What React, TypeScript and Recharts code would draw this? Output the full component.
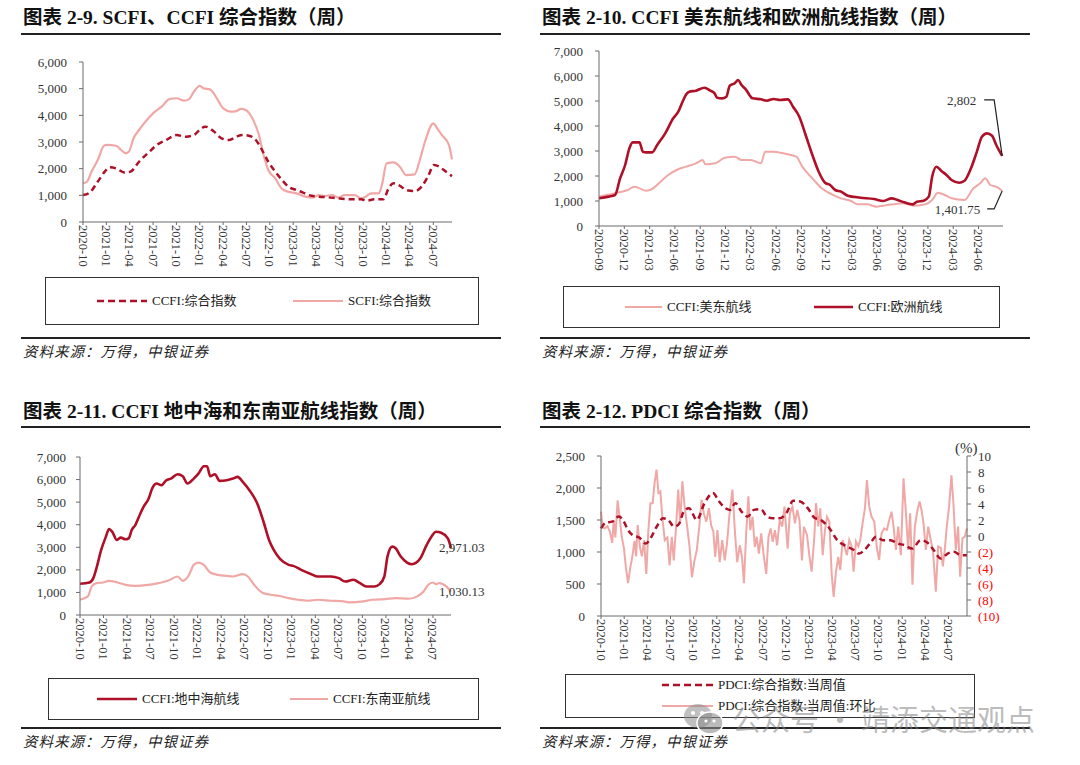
import React from "react";
import { LineChart, Line, XAxis, YAxis } from "recharts";

const SERIF = "'Liberation Serif', 'Times New Roman', 'Noto Sans CJK SC', serif";
const DARK = "#AE1028";
const PINK = "#F0A8A6";
const AXIS = "#6b6b6b";

// tick labels
const ticksOct = ["2020-10", "2021-01", "2021-04", "2021-07", "2021-10", "2022-01", "2022-04", "2022-07", "2022-10", "2023-01", "2023-04", "2023-07", "2023-10", "2024-01", "2024-04", "2024-07"];
const ticksSep = ["2020-09", "2020-12", "2021-03", "2021-06", "2021-09", "2021-12", "2022-03", "2022-06", "2022-09", "2022-12", "2023-03", "2023-06", "2023-09", "2023-12", "2024-03", "2024-06"];
const yTicks6k = [0, 1000, 2000, 3000, 4000, 5000, 6000];
const yTicks7k = [0, 1000, 2000, 3000, 4000, 5000, 6000, 7000];
const yTicksPdci = [0, 500, 1000, 1500, 2000, 2500];
const yTicksPct = [-10, -8, -6, -4, -2, 0, 2, 4, 6, 8, 10];

// x = months since 2020-01
// 图表 2-9
const scfiT = [9, 9.5, 10.1, 11, 11.6, 12, 13.25, 13.9, 14.5, 14.9, 15.5, 16.2, 17.2, 18, 19.1, 20.1, 21, 22, 22.6, 23.25, 24, 24.5, 25.3, 26.2, 27, 28, 28.7, 29.3, 29.9, 30.75, 31.6, 32.2, 32.8, 33.7, 34.5, 35.3, 36.4, 37.6, 38.5, 39.3, 40.1, 41, 41.8, 42.6, 43.9, 44.7, 45.3, 46, 47, 47.4, 48, 48.9, 49.7, 50.5, 51.6, 52.2, 53, 54, 54.5, 55.1, 56, 56.4];
const scfiV = [1450, 1510, 1890, 2390, 2830, 2890, 2860, 2700, 2575, 2640, 3140, 3450, 3825, 4075, 4325, 4610, 4640, 4550, 4600, 4890, 5110, 5010, 4975, 4640, 4260, 4140, 4160, 4240, 4200, 3890, 3260, 2510, 1950, 1640, 1260, 1140, 1075, 950, 912, 1010, 975, 1010, 912, 1010, 1010, 887, 950, 1075, 1075, 1390, 2200, 2237, 2075, 1760, 1787, 2260, 3075, 3700, 3510, 3260, 2890, 2350];
const ccfiT = [9, 9.9, 10.75, 11.8, 12.4, 13.25, 14.3, 15.1, 16.2, 17.4, 18.5, 19.7, 21, 22.2, 23.25, 24.1, 24.7, 25.75, 26.8, 27.8, 28.7, 29.5, 30.3, 31.2, 32, 32.8, 33.7, 34.5, 35.5, 36.4, 37.2, 38, 39.3, 40.5, 41.8, 43.5, 44.7, 45.5, 46.4, 47.6, 48.25, 48.9, 49.7, 50.5, 51.6, 52.5, 53.3, 54.1, 54.75, 55.6, 56.4];
const ccfiV = [1010, 1110, 1450, 1890, 2050, 2010, 1860, 1890, 2260, 2600, 2890, 3075, 3260, 3200, 3260, 3490, 3575, 3410, 3140, 3075, 3200, 3260, 3237, 3075, 2700, 2260, 1890, 1600, 1300, 1200, 1110, 1010, 950, 925, 887, 850, 850, 800, 850, 850, 1260, 1450, 1360, 1200, 1160, 1325, 1700, 2135, 2075, 1890, 1720];

// 图表 2-10
const euT = [8, 9.15, 9.9, 10.5, 11.1, 11.6, 12, 12.8, 13.2, 13.6, 14.3, 14.9, 15.85, 16.8, 17.4, 18, 18.35, 18.7, 19.5, 20.5, 21.2, 21.7, 22, 22.6, 23.1, 23.5, 24.1, 24.5, 24.9, 25.4, 26.2, 27.2, 27.9, 28.7, 29.5, 30.4, 31, 31.75, 32.5, 33.3, 34.05, 34.8, 35.4, 36, 36.7, 37.5, 39, 40.6, 41.7, 42.7, 43.4, 44.2, 45.2, 45.7, 46.5, 47.1, 47.5, 48, 48.6, 49.2, 49.8, 50.7, 51.3, 52.1, 52.8, 53.4, 54, 54.6, 55.1, 55.8];
const euV = [1108, 1175, 1240, 1907, 2440, 3107, 3347, 3347, 2973, 2947, 2947, 3240, 3707, 4307, 4573, 5040, 5267, 5373, 5413, 5533, 5413, 5307, 5133, 5107, 5173, 5613, 5707, 5840, 5640, 5467, 5107, 5067, 5013, 5080, 5040, 5067, 4773, 4373, 3640, 2840, 2173, 1733, 1640, 1440, 1373, 1213, 1133, 1080, 1000, 1107, 1040, 947, 867, 973, 1013, 1173, 1973, 2373, 2200, 2040, 1840, 1733, 1800, 2307, 2973, 3573, 3707, 3613, 3240, 2802];
const usT = [8, 9.9, 11.4, 12.2, 12.8, 13.6, 14.3, 15.3, 16.2, 17.2, 18.3, 19.5, 20.3, 20.6, 21.8, 22.9, 24.1, 24.9, 26, 27.2, 27.7, 28.7, 29.8, 31.4, 32.1, 33.3, 34.4, 35.6, 36.7, 37.9, 38.65, 39.8, 40.9, 41.7, 42.9, 44, 45.5, 46.7, 47.5, 48.2, 49, 49.8, 51.3, 52.4, 53.2, 53.8, 54.4, 55.1, 55.8];
const usV = [1173, 1307, 1440, 1573, 1507, 1413, 1480, 1773, 2040, 2240, 2373, 2507, 2640, 2467, 2507, 2733, 2773, 2640, 2640, 2507, 2973, 2973, 2907, 2773, 2373, 1907, 1507, 1267, 1107, 1000, 867, 867, 773, 813, 867, 907, 813, 867, 1040, 1333, 1240, 1107, 1040, 1507, 1707, 1907, 1640, 1573, 1401.75];

// 图表 2-11
const medT = [9, 10.2, 10.7, 11.1, 11.7, 12.3, 12.7, 13.1, 13.7, 14.2, 14.8, 15.2, 15.6, 16.05, 16.7, 17.1, 17.7, 18.3, 18.75, 19.4, 20, 20.6, 21.45, 22.1, 22.7, 23.5, 24.1, 24.8, 25.2, 25.6, 26.2, 26.8, 27.7, 28.5, 29.1, 29.75, 30.6, 31.6, 32.4, 33.1, 33.7, 34.5, 35.6, 36.2, 37.2, 38.5, 39.3, 41, 42, 42.8, 43.85, 44.7, 45.5, 46.55, 47.2, 47.8, 48.2, 48.8, 49.25, 49.9, 50.7, 51.3, 52.4, 53.2, 53.8, 54.4, 55.05, 55.9, 56.3];
const medV = [1382, 1441, 1632, 2074, 2882, 3470, 3809, 3691, 3324, 3426, 3353, 3397, 3765, 3985, 4500, 4794, 5118, 5676, 5824, 5750, 5971, 6044, 6235, 6147, 5824, 6044, 6265, 6588, 6588, 6147, 6235, 5941, 5971, 6044, 6118, 5897, 5529, 4941, 4132, 3324, 2882, 2485, 2221, 2176, 2000, 1809, 1706, 1706, 1632, 1485, 1559, 1412, 1265, 1265, 1368, 1706, 2588, 3029, 2956, 2588, 2324, 2250, 2515, 3103, 3470, 3691, 3647, 3397, 2971.03];
const seaT = [9, 10, 10.5, 11.1, 11.9, 12.7, 13.8, 14.8, 16.05, 17.7, 19, 20.2, 21.45, 22.1, 22.9, 23.5, 24.1, 24.8, 25.6, 26.6, 27.7, 28.5, 29.75, 30.4, 31.2, 32.2, 33.3, 34.3, 35.6, 36.8, 38.05, 39.3, 41, 42.6, 43.4, 45.1, 46.3, 47.9, 49.25, 50.9, 52, 52.8, 53.4, 54, 54.4, 54.8, 55.7, 56.3];
const seaV = [676, 824, 1265, 1412, 1441, 1515, 1441, 1338, 1294, 1338, 1412, 1515, 1706, 1515, 1779, 2221, 2324, 2221, 1882, 1779, 1735, 1706, 1809, 1706, 1338, 1000, 897, 853, 750, 676, 632, 676, 632, 603, 559, 603, 676, 706, 750, 720, 824, 1044, 1338, 1441, 1368, 1412, 1265, 1030.13];

// 图表 2-12
const pdciT = [9, 9.6, 10.45, 11.3, 11.9, 12.5, 13.1, 13.95, 14.8, 15.4, 16.2, 17.05, 17.7, 18.5, 19.1, 19.7, 20.4, 21.4, 22.4, 23.5, 24.3, 25.1, 25.7, 26.4, 27.2, 28, 28.8, 29.7, 30.5, 31.3, 32.1, 33, 33.9, 34.8, 35.8, 36.6, 37.5, 38.6, 39.6, 40.5, 41.8, 42.4, 43.1, 44, 44.6, 45.5, 46.5, 47.4, 48.3, 49.3, 50.4, 51.3, 52.1, 53, 53.9, 54.7, 55.6, 56.4];
const pdciV = [1368, 1458, 1474, 1553, 1489, 1342, 1263, 1226, 1132, 1211, 1395, 1526, 1500, 1395, 1437, 1632, 1684, 1500, 1763, 1921, 1789, 1684, 1658, 1763, 1632, 1553, 1658, 1668, 1553, 1526, 1526, 1605, 1800, 1790, 1681, 1540, 1498, 1368, 1185, 1107, 1028, 976, 1028, 1159, 1237, 1185, 1185, 1133, 1107, 1054, 1185, 1143, 1028, 898, 976, 1002, 950, 950];
const momT = [9, 9.2, 9.5, 9.83, 10.16, 10.45, 10.65, 10.86, 11.15, 11.4, 11.69, 11.98, 12.22, 12.51, 12.8, 13.05, 13.34, 13.55, 13.75, 14.04, 14.29, 14.58, 14.87, 15.12, 15.4, 15.69, 15.94, 16.19, 16.44, 16.69, 16.93, 17.26, 17.6, 17.88, 18.17, 18.42, 18.71, 19, 19.25, 19.54, 19.83, 20.16, 20.45, 20.78, 21.07, 21.4, 21.73, 22.02, 22.31, 22.64, 22.97, 23.26, 23.55, 23.79, 24.08, 24.37, 24.7, 25.03, 25.32, 25.61, 26.02, 26.36, 26.64, 26.98, 27.26, 27.51, 27.8, 28.09, 28.34, 28.63, 28.92, 29.17, 29.45, 29.74, 30.07, 30.4, 30.69, 30.98, 31.23, 31.52, 31.81, 32.14, 32.47, 32.76, 33.17, 33.46, 33.79, 34.12, 34.41, 34.7, 35.03, 35.28, 35.68, 35.98, 36.28, 36.63, 36.84, 37.14, 37.4, 37.71, 38.01, 38.27, 38.57, 38.87, 39.13, 39.43, 39.73, 39.99, 40.29, 40.59, 40.85, 41.15, 41.46, 41.71, 42.02, 42.32, 42.58, 42.88, 43.18, 43.44, 43.74, 44.04, 44.39, 44.73, 45.03, 45.33, 45.68, 46.02, 46.33, 46.63, 46.89, 47.19, 47.49, 47.83, 48.18, 48.48, 48.78, 49.04, 49.34, 49.64, 49.99, 50.25, 50.51, 50.77, 51.07, 51.37, 51.71, 52.02, 52.36, 52.66, 53.01, 53.27, 53.52, 53.78, 54.08, 54.39, 54.64, 54.95, 55.25, 55.51, 55.81, 56.11, 56.4];
const momV = [3.05, 1.16, 0.95, 1.24, 0.53, -0.86, 2.0, -0.19, 4.44, 2.42, -0.1, -1.58, -3.9, -5.9, -3.9, -2.63, -0.61, -2.55, 1.37, -1.37, -2.55, -0.53, -4.74, 0.53, 4.1, 4.1, 6.63, 8.3, 5.37, 5.58, 2.42, -0.53, -0.19, -3.68, -0.1, -3.05, 0.95, 5.79, 1.66, 6.84, 3.68, 1.16, -1.16, -5.16, -3.26, -1.79, 1.16, 4.53, 2.84, 1.79, 3.47, 1.37, 0.53, -2.63, 0.74, -3.26, -0.53, -3.05, -0.95, 2.42, 5.79, 0.32, -3.26, -1.16, -2.63, -5.9, 0.32, 4.95, 0.74, 2.42, -1.37, -0.1, -2.21, 0.32, -2.42, -4.74, -0.1, 0.95, -0.74, 0.74, -1.16, 2.0, 1.16, 3.68, -1.58, 2.84, 3.68, 1.58, 3.26, 2.0, -3.05, 1.16, 0.1, -2.4, -4.46, -0.1, 4.1, 1.2, 3.46, -2.4, 0.75, 2.4, 1.8, -4.67, -7.6, -4.46, -2.6, -4.25, -0.5, -1.5, -2.4, -0.5, -1.3, -4.46, -0.7, -1.3, -0.5, 1.6, 3.46, 7.0, 3.67, 2.4, 1.8, -1.5, -3.0, 0.33, 0.96, 0.75, 2.0, 3.04, 1.17, -1.75, 1.17, -2.4, 7.2, 3.04, -1.75, 2.83, -6.1, 1.17, 3.25, 4.3, 3.25, 1.58, -1.75, 1.17, -0.5, -2.17, -6.96, -1.33, -1.5, -3.8, -1.75, 1.17, 3.67, 7.6, 4.1, -1.75, 1.17, -5.1, -0.3, -0.08, 0.96];

const pts = (t: number[], v: number[]) => t.map((x, i) => ({ t: x, v: v[i] }));
const monthOf = (s: string) => {
  const [y, m] = s.split("-").map(Number);
  return (y - 2020) * 12 + (m - 1);
};
const labelOf = (i: number) => {
  const y = 2020 + Math.floor(i / 12);
  const m = (i % 12) + 1;
  return `${y}-${m < 10 ? "0" + m : m}`;
};

const XTick = (props: any) => {
  const { x, y, payload } = props;
  return (
    <text x={x} y={y} transform={`rotate(90 ${x} ${y})`} dy="0.36em" textAnchor="start" fontSize={12.5} fontFamily={SERIF} fill="#333">
      {labelOf(payload.value)}
    </text>
  );
};

const PctTick = (props: any) => {
  const { x, y, payload } = props;
  const v = payload.value;
  return (
    <text x={x} y={y} dy="0.35em" textAnchor="start" fontSize={13} fontFamily={SERIF} fill={v < 0 ? "#FF0000" : "#333"}>
      {v < 0 ? `(${-v})` : v}
    </text>
  );
};

const fmt = (v: number) => v.toLocaleString("en-US");
const yTickStyle = { fontSize: 13, fontFamily: SERIF, fill: "#333" };

const xAxisProps = (ticks: string[], domain: [number, number]) => ({
  type: "number" as const,
  dataKey: "t",
  domain,
  ticks: ticks.map(monthOf),
  interval: 0 as const,
  height: 50,
  tick: <XTick />,
  tickSize: 3,
  tickMargin: 0,
  stroke: AXIS,
});

// annotation with leader line, for the last point of panel 2.10
const leaderDot = (n: number, text: string, dy: number, textEnd: number, hx: number) => (p: any) => {
  if (p.index !== n - 1) return <g key={`d${p.index}`} />;
  const { cx, cy } = p;
  const ly = cy + dy;
  return (
    <g key={`d${p.index}`}>
      <text x={cx + textEnd} y={ly} dy="0.35em" textAnchor="end" fontSize={13} fontFamily={SERIF} fill="#333">{text}</text>
      <polyline points={`${cx + hx},${ly} ${cx - 8},${ly} ${cx},${cy}`} fill="none" stroke="#222" strokeWidth={1.2} />
    </g>
  );
};

const endLabelDot = (n: number, text: string) => (p: any) => {
  if (p.index !== n - 1) return <g key={`d${p.index}`} />;
  return (
    <text key={`d${p.index}`} x={p.cx - 12} y={p.cy} dy="0.35em" textAnchor="start" fontSize={13} fontFamily={SERIF} fill="#333">{text}</text>
  );
};

const Title = ({ left, top, text }: { left: number; top: number; text: string }) => (
  <div style={{ position: "absolute", left, top, fontSize: 19.5, lineHeight: "22px", fontWeight: 700, fontFamily: SERIF, color: "#111", whiteSpace: "nowrap" }}>{text}</div>
);
const Rule = ({ left, top, width }: { left: number; top: number; width: number }) => (
  <div style={{ position: "absolute", left, top, width, height: 1.5, background: "#222" }} />
);
const Source = ({ left, top }: { left: number; top: number }) => (
  <div style={{ position: "absolute", left, top, fontSize: 14.5, lineHeight: "16px", fontStyle: "italic", letterSpacing: 1, fontFamily: SERIF, color: "#222", whiteSpace: "nowrap" }}>资料来源：万得，中银证券</div>
);
const Box = ({ left, top, width, height }: { left: number; top: number; width: number; height: number }) => (
  <div style={{ position: "absolute", left, top, width, height, border: "1.5px solid #333", boxSizing: "border-box" }} />
);
const Key = ({ x, y, len, color, dashed, text, w }: { x: number; y: number; len: number; color: string; dashed?: boolean; text: string; w: number }) => (
  <>
    <svg style={{ position: "absolute", left: x, top: y - 4 }} width={len} height={8}>
      <line x1={0} y1={4} x2={len} y2={4} stroke={color} strokeWidth={w} strokeDasharray={dashed ? "7 4" : undefined} />
    </svg>
    <div style={{ position: "absolute", left: x + len + 5, top: y - 8, fontSize: 13, lineHeight: "16px", fontFamily: SERIF, color: "#222", whiteSpace: "nowrap" }}>{text}</div>
  </>
);

export default function App() {
  return (
    <div style={{ position: "absolute", left: 0, top: 0, width: 1080, height: 765, background: "#fff", overflow: "hidden" }}>
      {/* 图表 2-9 */}
      <Title left={23} top={7} text="图表 2-9. SCFI、CCFI 综合指数（周）" />
      <Rule left={21} top={33} width={480} />
      <div style={{ position: "absolute", left: 0, top: 0 }}>
        <LineChart width={540} height={272} margin={{ top: 62, right: 88, bottom: 0, left: 0 }}>
          <XAxis {...xAxisProps(ticksOct, [9, 56.4])} />
          <YAxis width={83} domain={[0, 6000]} ticks={yTicks6k} interval={0} tickFormatter={fmt} tick={yTickStyle} tickSize={4} tickMargin={12} stroke={AXIS} />
          <Line data={pts(scfiT, scfiV)} dataKey="v" type="monotone" stroke={PINK} strokeWidth={2.2} dot={false} isAnimationActive={false} />
          <Line data={pts(ccfiT, ccfiV)} dataKey="v" type="monotone" stroke={DARK} strokeWidth={2.5} strokeDasharray="6 4" dot={false} isAnimationActive={false} />
        </LineChart>
      </div>
      <Box left={45} top={277} width={434} height={48} />
      <Key x={97} y={301} len={50} color={DARK} dashed w={2.5} text="CCFI:综合指数" />
      <Key x={293} y={301} len={50} color={PINK} w={2.2} text="SCFI:综合指数" />
      <Rule left={21} top={337} width={480} />
      <Source left={23} top={344} />

      {/* 图表 2-10 */}
      <Title left={542} top={7} text="图表 2-10. CCFI 美东航线和欧洲航线指数（周）" />
      <Rule left={540} top={33} width={490} />
      <div style={{ position: "absolute", left: 540, top: 0 }}>
        <LineChart width={540} height={276} margin={{ top: 51, right: 77, bottom: 0, left: 0 }}>
          <XAxis {...xAxisProps(ticksSep, [8, 55.9])} />
          <YAxis width={59} domain={[0, 7000]} ticks={yTicks7k} interval={0} tickFormatter={fmt} tick={yTickStyle} tickSize={4} tickMargin={12} stroke={AXIS} />
          <Line data={pts(usT, usV)} dataKey="v" type="monotone" stroke={PINK} strokeWidth={2} dot={leaderDot(usT.length, "1,401.75", 18, -22, -15)} isAnimationActive={false} />
          <Line data={pts(euT, euV)} dataKey="v" type="monotone" stroke={DARK} strokeWidth={2.6} dot={leaderDot(euT.length, "2,802", -56, -26, -18)} isAnimationActive={false} />
        </LineChart>
      </div>
      <Box left={563} top={286} width={437} height={42} />
      <Key x={625} y={307} len={37} color={PINK} w={2} text="CCFI:美东航线" />
      <Key x={814} y={307} len={39} color={DARK} w={2.6} text="CCFI:欧洲航线" />
      <Rule left={540} top={337} width={490} />
      <Source left={542} top={344} />

      {/* 图表 2-11 */}
      <Title left={23} top={401} text="图表 2-11. CCFI 地中海和东南亚航线指数（周）" />
      <Rule left={21} top={426} width={480} />
      <div style={{ position: "absolute", left: 0, top: 385 }}>
        <LineChart width={540} height={280} margin={{ top: 72, right: 89, bottom: 0, left: 0 }}>
          <XAxis {...xAxisProps(ticksOct, [9, 56.3])} />
          <YAxis width={80} domain={[0, 7000]} ticks={yTicks7k} interval={0} tickFormatter={fmt} tick={yTickStyle} tickSize={4} tickMargin={10} stroke={AXIS} />
          <Line data={pts(seaT, seaV)} dataKey="v" type="monotone" stroke={PINK} strokeWidth={2.2} dot={endLabelDot(seaT.length, "1,030.13")} isAnimationActive={false} />
          <Line data={pts(medT, medV)} dataKey="v" type="monotone" stroke={DARK} strokeWidth={2.6} dot={endLabelDot(medT.length, "2,971.03")} isAnimationActive={false} />
        </LineChart>
      </div>
      <Box left={48} top={678} width={431} height={42} />
      <Key x={97} y={699} len={40} color={DARK} w={2.6} text="CCFI:地中海航线" />
      <Key x={290} y={699} len={38} color={PINK} w={2.2} text="CCFI:东南亚航线" />
      <Rule left={21} top={727} width={480} />
      <Source left={23} top={734} />

      {/* 图表 2-12 */}
      <Title left={542} top={401} text="图表 2-12. PDCI 综合指数（周）" />
      <Rule left={540} top={426} width={490} />
      <div style={{ position: "absolute", left: 540, top: 385 }}>
        <LineChart width={540} height={281} margin={{ top: 71, right: 73, bottom: 0, left: 0 }}>
          <XAxis {...xAxisProps(ticksOct, [9, 56.4])} />
          <YAxis yAxisId="l" width={61} domain={[0, 2500]} ticks={yTicksPdci} interval={0} tickFormatter={fmt} tick={yTickStyle} tickSize={4} tickMargin={12} stroke={AXIS} />
          <YAxis yAxisId="r" orientation="right" width={40} domain={[-10, 10]} ticks={yTicksPct} interval={0} tick={<PctTick />} tickSize={4} tickMargin={7} stroke={AXIS} />
          <Line yAxisId="r" data={pts(momT, momV)} dataKey="v" type="linear" stroke={PINK} strokeWidth={2} dot={false} isAnimationActive={false} />
          <Line yAxisId="l" data={pts(pdciT, pdciV)} dataKey="v" type="monotone" stroke={DARK} strokeWidth={2.5} strokeDasharray="6 4" dot={false} isAnimationActive={false} />
        </LineChart>
      </div>
      <div style={{ position: "absolute", left: 955, top: 440, fontSize: 15, lineHeight: "16px", fontFamily: SERIF, color: "#333" }}>(%)</div>
      <Box left={565} top={674} width={410} height={44} />
      <Key x={662} y={685} len={51} color={DARK} dashed w={2.5} text="PDCI:综合指数:当周值" />
      <Key x={662} y={706} len={51} color={PINK} w={2} text="PDCI:综合指数:当周值:环比" />
      <Rule left={540} top={727} width={490} />
      <Source left={542} top={734} />

      {/* 水印 */}
      <svg style={{ position: "absolute", left: 683, top: 702 }} width={42} height={34}>
        <ellipse cx={15} cy={14} rx={14} ry={12} fill="rgba(140,140,140,0.55)" />
        <ellipse cx={27} cy={21} rx={13} ry={11} fill="rgba(140,140,140,0.6)" stroke="#fff" strokeWidth={1.5} />
        <circle cx={10} cy={11} r={2} fill="#fff" />
        <circle cx={19} cy={11} r={2} fill="#fff" />
        <circle cx={23} cy={19} r={1.6} fill="#fff" />
        <circle cx={31} cy={19} r={1.6} fill="#fff" />
      </svg>
      <div style={{ position: "absolute", left: 732, top: 702, fontSize: 29, lineHeight: "32px", fontFamily: "'Noto Sans CJK SC', sans-serif", color: "rgba(130,130,130,0.55)", whiteSpace: "nowrap" }}>公众号 · 靖添交通观点</div>
    </div>
  );
}
